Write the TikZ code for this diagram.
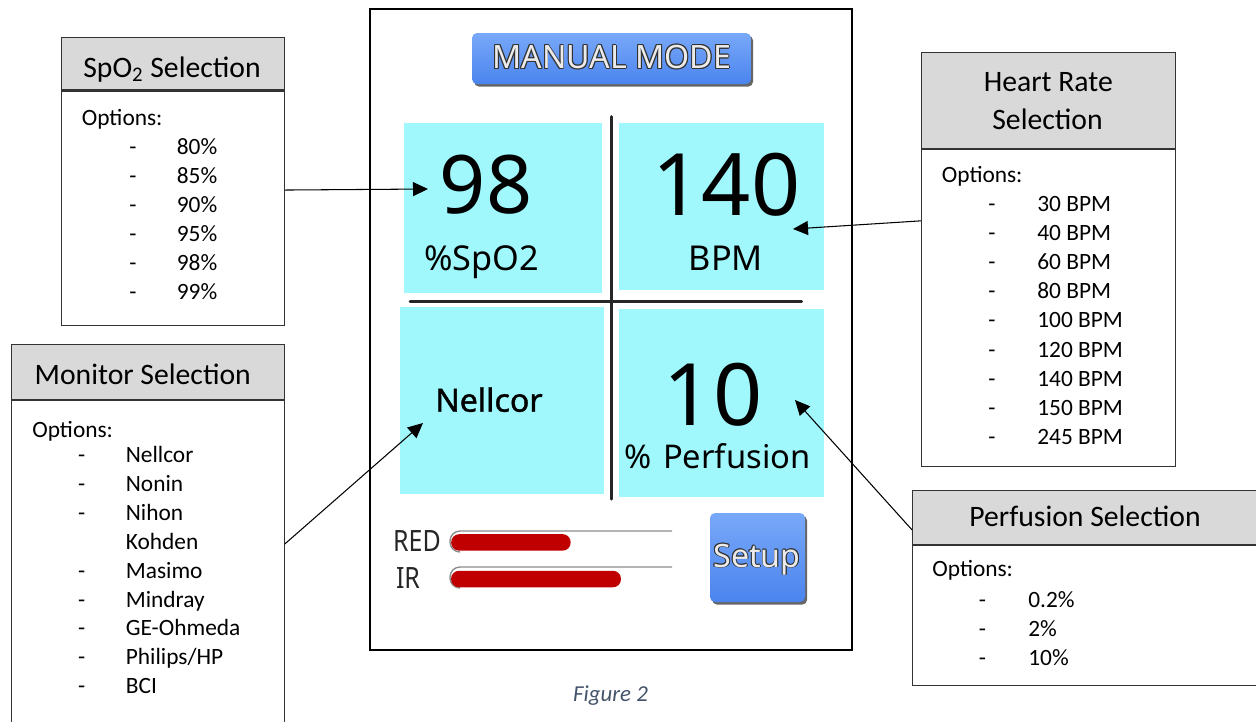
\documentclass[tikz,border=0pt]{standalone}
\usepackage{fontspec}
\setmainfont{Carlito}
\newfontfamily\scrfont{Noto Sans}
\newfontfamily\scrboldfont[FakeBold=1.2]{Noto Sans}
\usetikzlibrary{arrows.meta,shadows,positioning}

\definecolor{panelcyan}{HTML}{A0F8FC}
\definecolor{btntop}{HTML}{78A8F8}
\definecolor{btnbot}{HTML}{4A84EE}
\definecolor{barred}{HTML}{C00000}
\definecolor{headgray}{HTML}{D9D9D9}
\definecolor{captionblue}{HTML}{44546A}

% light label with a thin dark rim
\newcommand{\embossed}[3]{%
  \foreach \ox/\oy in {-0.5/0,0.5/0,0/-0.5,0/0.5,-0.4/-0.4,0.4/0.4,-0.4/0.4,0.4/-0.4}
    \node[#2,text=black!80] at ([shift={(\ox pt,\oy pt)}]#1) {#3};
  \node[#2] at (#1) {#3};}

\begin{document}
\begin{tikzpicture}[x=0.02cm,y=-0.02cm,
    pointer/.style={-{Triangle[length=0.3cm,width=0.28cm]},line width=0.6pt},
    boxhead/.style={draw=black!80,fill=headgray,line width=0.6pt,inner sep=0pt},
    boxbody/.style={draw=black!80,fill=white,line width=0.6pt,inner sep=0pt},
    boxtitle/.style={anchor=base,inner sep=0pt,font=\fontsize{16.9}{20}\selectfont},
    item/.style={anchor=base west,inner sep=0pt,font=\fontsize{13.3}{16}\selectfont},
    dashmark/.style={anchor=base,inner sep=0pt,font=\fontsize{13.3}{16}\selectfont},
    panel/.style={fill=panelcyan,inner sep=0pt},
    bignum/.style={anchor=base,inner sep=0pt,font=\scrfont\fontsize{49}{50}\selectfont},
    unitlbl/.style={anchor=base,inner sep=0pt,font=\scrfont\fontsize{19.5}{22}\selectfont},
    btn/.style={rounded corners=0.1cm,top color=btntop,bottom color=btnbot,inner sep=0pt,
                drop shadow={shadow xshift=1.2pt,shadow yshift=-1.5pt,fill=black!75,opacity=0.8}},
    btnlbl/.style={anchor=base,inner sep=0pt,text=black!8,font=\scrfont\fontsize{18.3}{20}\selectfont},
    divider/.style={line width=1.7pt,draw=black!85,line cap=round},
    redbar/.style={fill=barred,rounded corners=0.16cm,inner sep=0pt,minimum height=0.33cm},
    track/.style={draw=black!45,line width=0.8pt,rounded corners=0.2cm}]

\useasboundingbox (0,0) rectangle (1256,721);

% device screen
\node[draw,line width=1.1pt,minimum width=9.64cm,minimum height=12.83cm,inner sep=0pt] (screen) at (610.6,329.4) {};
\node[btn,minimum width=5.58cm,minimum height=1.02cm] (mmbtn) at (611.5,58.5) {};
\coordinate (mmtxt) at (611.7,68.3);
\embossed{mmtxt}{btnlbl}{MANUAL MODE}

\node[panel,minimum width=3.95cm,minimum height=3.39cm] (pspo) at (502.9,208) {};
\node[panel,minimum width=4.09cm,minimum height=3.34cm] (phr) at (721.7,206.5) {};
\node[panel,minimum width=4.09cm,minimum height=3.74cm] (pmon) at (502.2,400.8) {};
\node[panel,minimum width=4.09cm,minimum height=3.75cm] (pperf) at (721.7,402.9) {};
\draw[divider] (611.7,116.7) -- (611.7,499);
\draw[divider] (410,301.7) -- (801.7,301.7);

\node[bignum,font=\scrfont\fontsize{46}{48}\selectfont] (spoval) at (486,213) {98};
\node[unitlbl] (spounit) at (481.5,270) {\%SpO2};
\node[bignum] (hrval) at (726.5,215) {140};
\node[unitlbl] (hrunit) at (726,270) {BPM};
\node[anchor=base,inner sep=0pt,font=\scrboldfont\fontsize{18.3}{20}\selectfont] (monval) at (489,411.7) {Nellcor};
\node[bignum] (perfval) at (713,425) {10};
\node[unitlbl,font=\scrfont\fontsize{18.6}{22}\selectfont] (perfunit) at (717.5,468) {\%\hspace{0.35em}Perfusion};

% signal bars
\node[anchor=base,inner sep=0pt,font=\scrfont\fontsize{16.7}{18}\selectfont,text=black!85] (redlbl) at (417,551.7) {\scalebox{0.85}[1]{RED}};
\node[anchor=base,inner sep=0pt,font=\scrfont\fontsize{16.7}{18}\selectfont,text=black!85] (irlbl) at (408,588) {\scalebox{0.85}[1]{IR}};
\draw[track] (460,552) -- (450,552) -- (450,531) -- (672,531);
\draw[track] (460,588) -- (450,588) -- (450,567) -- (672,567);
\node[redbar,minimum width=2.39cm] (redlvl) at (510.9,542.4) {};
\node[redbar,minimum width=3.4cm] (irlvl) at (536,579) {};

\node[btn,minimum width=1.9cm,minimum height=1.78cm] (setupbtn) at (757.5,557.5) {};
\coordinate (setuptxt) at (757,567);
\embossed{setuptxt}{btnlbl}{Setup}

\node[anchor=base,inner sep=0pt,font=\itshape\fontsize{13}{15}\selectfont,text=captionblue] (caption) at (610.5,701) {Figure 2};

% SpO2 box
\node[boxhead,minimum width=4.45cm,minimum height=1.05cm] (spoh) at (173,63.7) {};
\node[boxbody,minimum width=4.45cm,minimum height=4.69cm,below=0pt of spoh] (spob) {};
\node[boxtitle] (spot) at (172,77) {SpO\textsubscript{2} Selection};
\node[item] (spoopt) at (81.5,125) {Options:};
\foreach \v [count=\i from 0] in {80\%,85\%,90\%,95\%,98\%,99\%}{
  \node[dashmark] at (133,{154+29*\i}) {-};
  \node[item] at (176.5,{154+29*\i}) {\v};
}

% monitor box
\node[boxhead,minimum width=5.45cm,minimum height=1.09cm] (monh) at (148,372.2) {};
\node[boxbody,minimum width=5.45cm,minimum height=6.81cm,below=0pt of monh] (monb) {};
\node[boxtitle] (mont) at (142.8,384) {Monitor Selection};
\node[item] (monopt) at (32,437.5) {Options:};
\foreach \d/\v [count=\i from 0] in {-/Nellcor,-/Nonin,-/Nihon,/Kohden,-/Masimo,-/Mindray,-/GE-Ohmeda,-/{Philips/HP},-/BCI}{
  \node[dashmark] at (81.7,{462.5+28.9*\i}) {\d};
  \node[item] at (125.5,{462.5+28.9*\i}) {\v};
}

% heart rate box
\node[boxhead,minimum width=5.07cm,minimum height=1.91cm] (hrh) at (1048.3,100.5) {};
\node[boxbody,minimum width=5.07cm,minimum height=6.35cm,below=0pt of hrh] (hrb) {};
\node[boxtitle] (hrt) at (1048.3,91.7) {Heart Rate};
\node[boxtitle] (hrt2) at (1047.5,129.3) {Selection};
\node[item] (hropt) at (941.5,182.5) {Options:};
\foreach \v [count=\i from 0] in {30,40,60,80,100,120,140,150,245}{
  \node[dashmark] at (992,{211+29.2*\i}) {-};
  \node[item] at (1037,{211+29.2*\i}) {\v~BPM};
}

% perfusion box
\node[boxhead,minimum width=6.93cm,minimum height=1.07cm] (perh) at (1085.7,517.3) {};
\node[boxbody,minimum width=6.93cm,minimum height=2.8cm,below=0pt of perh] (perb) {};
\node[boxtitle] (pert) at (1085,526) {Perfusion Selection};
\node[item] (peropt) at (932,576.5) {Options:};
\foreach \v [count=\i from 0] in {0.2\%,2\%,10\%}{
  \node[dashmark] at (982.5,{607.5+29.2*\i}) {-};
  \node[item] at (1028,{607.5+29.2*\i}) {\v};
}

% pointers
\coordinate (spotip) at (428,189);
\coordinate (hrtip) at (793,229);
\coordinate (montip) at (423,423);
\coordinate (perftip) at (795,400);
\draw[pointer] ([yshift=0.364cm]spob.east) -- (spotip);
\draw[pointer] ([yshift=1.744cm]hrb.west) -- (hrtip);
\draw[pointer] ([yshift=0.534cm]monb.east) -- (montip);
\draw[pointer] ([yshift=-0.25cm]perh.west) -- (perftip);
\end{tikzpicture}
\end{document}
